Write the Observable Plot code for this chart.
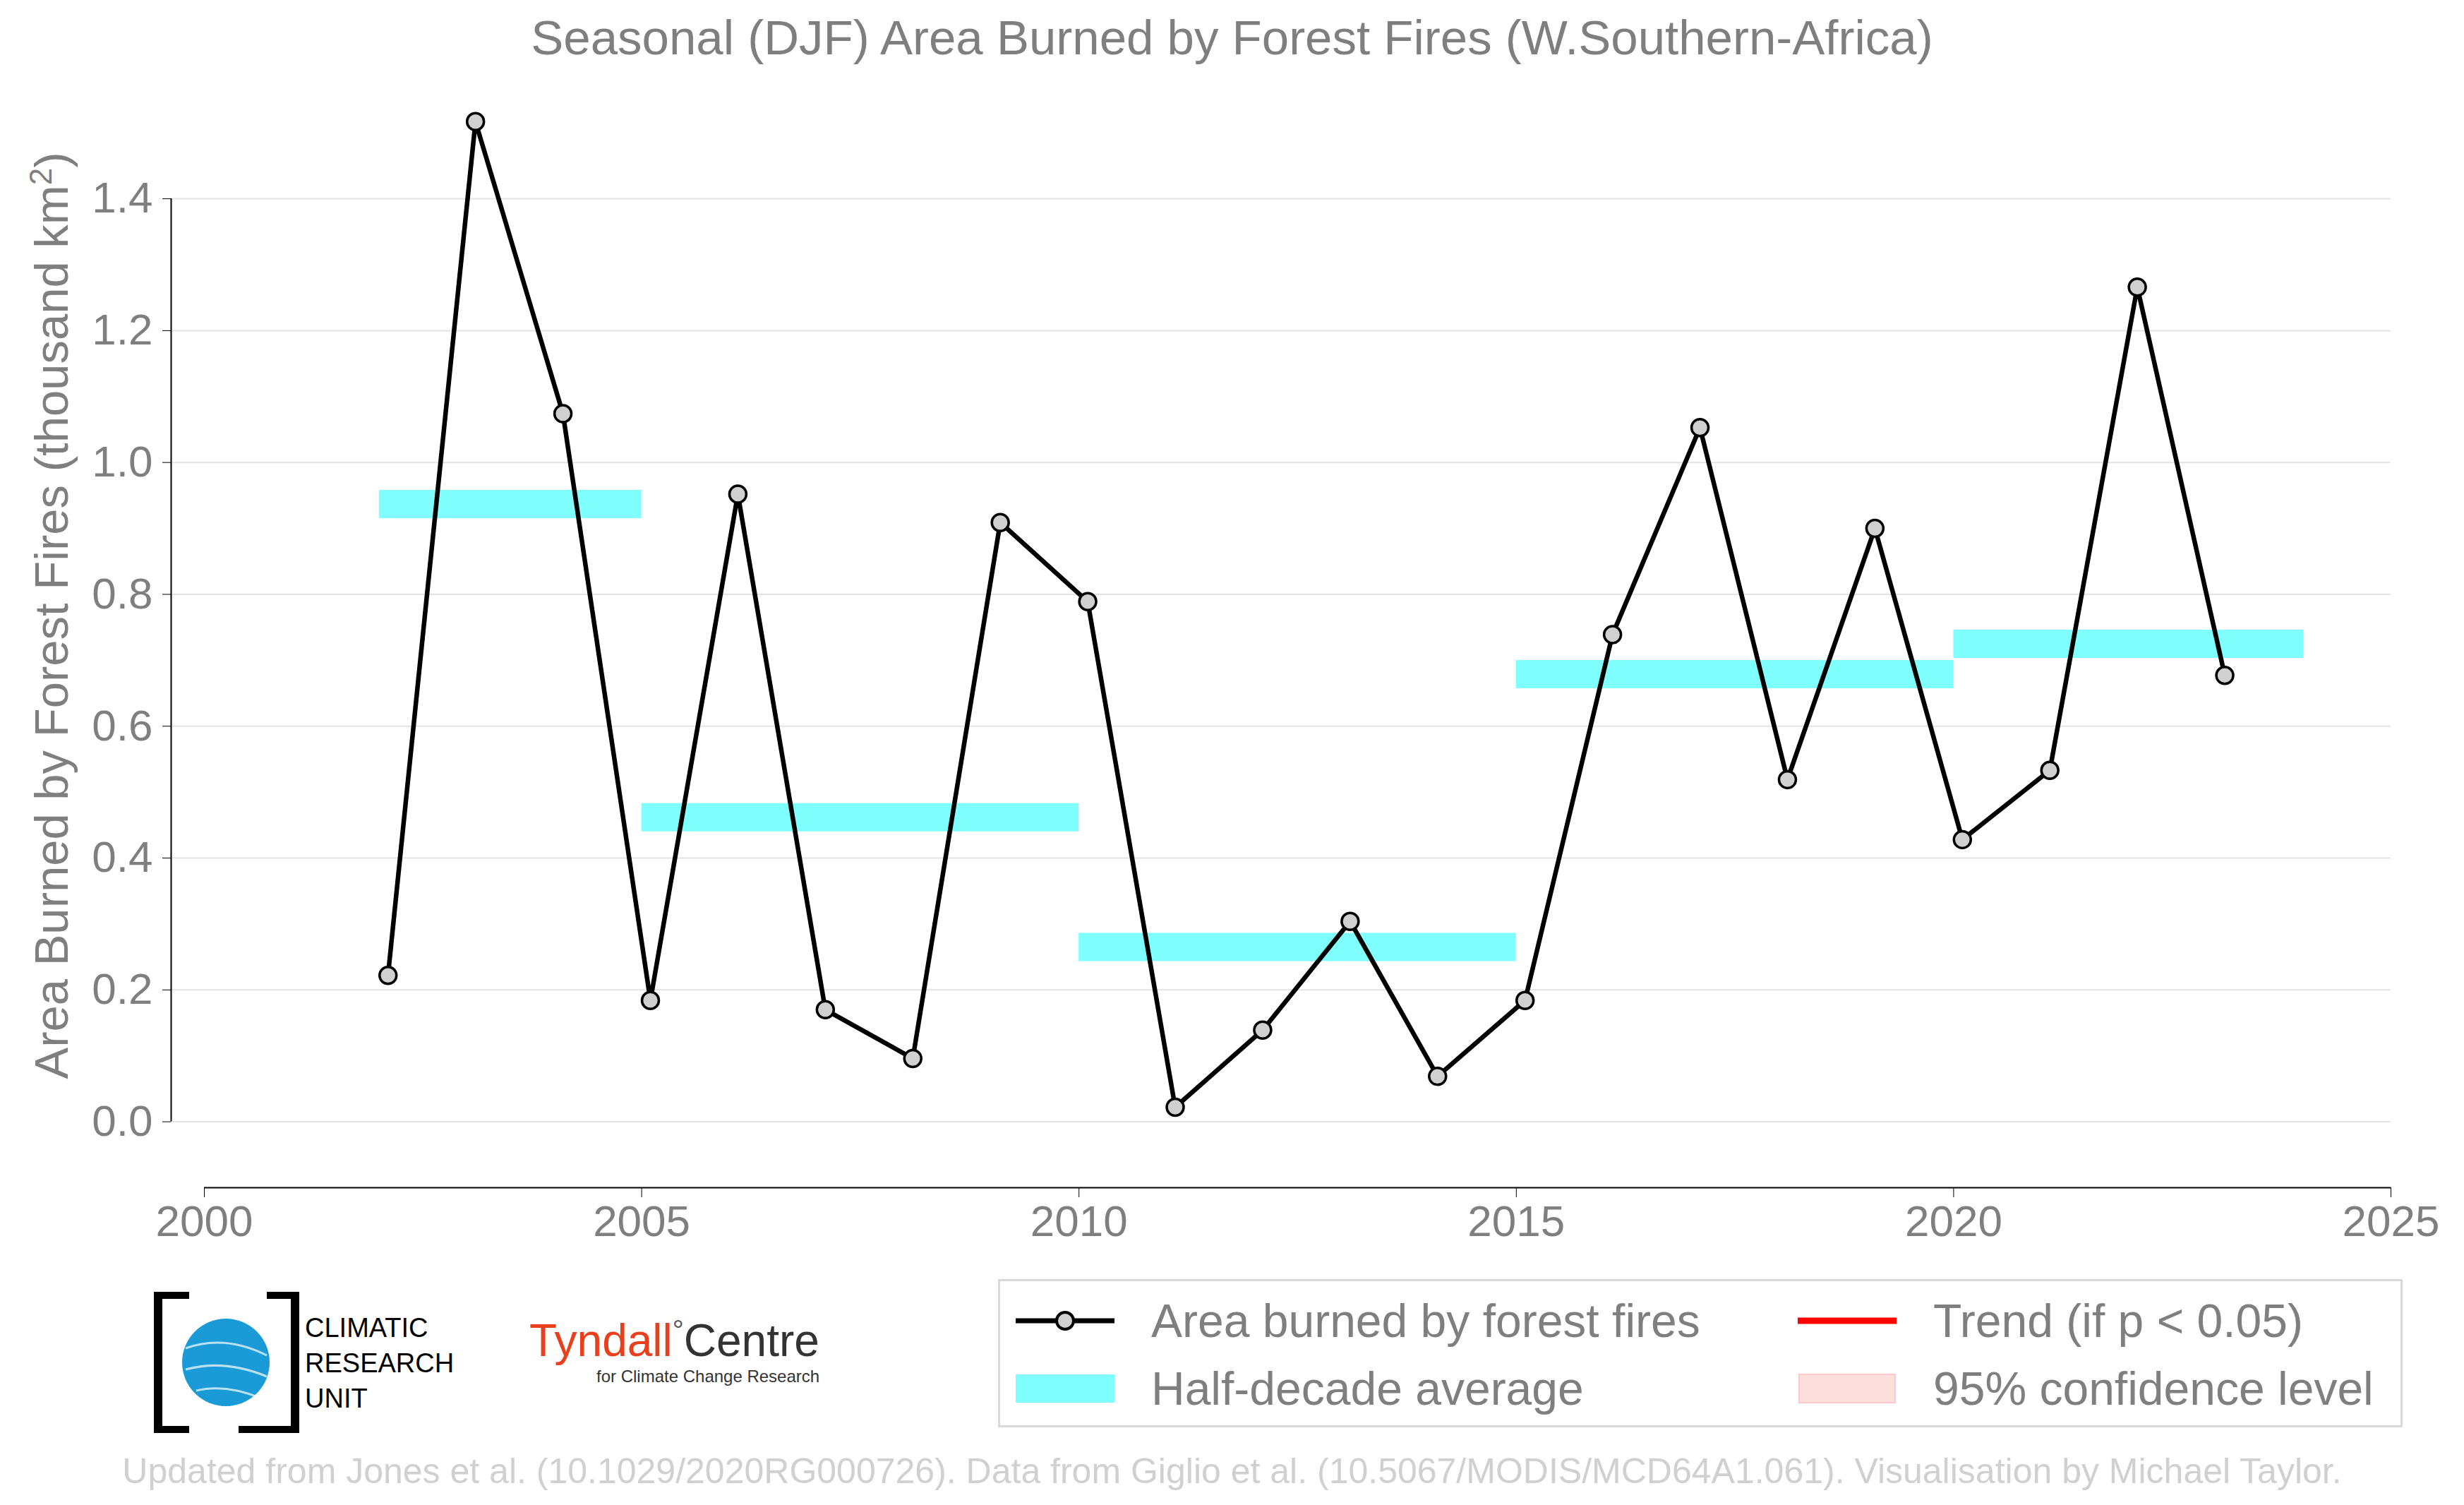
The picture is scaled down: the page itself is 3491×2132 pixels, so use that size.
<!DOCTYPE html>
<html lang="en">
<head>
<meta charset="UTF-8">
<script src="https://cdn.jsdelivr.net/npm/d3@7"></script>
<script src="https://cdn.jsdelivr.net/npm/@observablehq/plot@0.6"></script>
<style>
  body {margin:0; background:#fff; font-family:"Liberation Sans", Arial, sans-serif; width:3491px; height:2132px; position:relative; overflow:hidden;}
  #title {position:absolute; top:14px; left:0; width:3491px; text-align:center; font-size:69px; color:#7f7f7f;}
  #plot {position:absolute; top:0; left:0;}
  #ylab {position:absolute; left:72px; top:872px; transform:translate(-50%,-50%) rotate(-90deg); white-space:nowrap; font-size:67px; color:#7f7f7f;}
  #legend {position:absolute; left:1414px; top:1812px; width:1990px; height:210px; border:3px solid #d9d9d9; box-sizing:border-box; font-size:66px; color:#7f7f7f;}
  .li {position:absolute; display:flex; align-items:center;}
  #footer {position:absolute; top:2055px; left:0; width:3491px; text-align:center; font-size:50px; color:#d0d0d0;}
</style>
</head>
<body>
<div id="title">Seasonal (DJF) Area Burned by Forest Fires (W.Southern-Africa)</div>
<div id="plot"></div>
<div id="ylab">Area Burned by Forest Fires (thousand km<sup style="font-size:44px">2</sup>)</div>

<div style="position:absolute;left:218px;top:1830px;">
  <svg width="480" height="200">
    <path d="M50,4 H6 V196 H50" fill="none" stroke="#000" stroke-width="12"/>
    <path d="M160,4 H200 V196 H120" fill="none" stroke="#000" stroke-width="12"/>
    <circle cx="102" cy="100" r="62" fill="#1a9ad6"/>
    <path d="M45,80 Q100,60 160,90 M45,110 Q100,95 160,120 M60,140 Q100,130 150,150" stroke="#fff" stroke-width="3" fill="none" opacity="0.7"/>
    <text x="214" y="64" font-size="38" font-family="Liberation Sans">CLIMATIC</text>
    <text x="214" y="114" font-size="38" font-family="Liberation Sans">RESEARCH</text>
    <text x="214" y="164" font-size="38" font-family="Liberation Sans">UNIT</text>
  </svg>
</div>
<div style="position:absolute;left:750px;top:1862px;">
  <div style="font-size:64px;color:#e8401c;">Tyndall<span style="font-size:40px;vertical-align:top;color:#555">°</span><span style="color:#333">Centre</span></div>
  <div style="font-size:24px;color:#333;margin-left:95px;">for Climate Change Research</div>
</div>

<div id="legend">
  <div class="li" style="left:22px;top:18px;">
    <svg width="140" height="60"><line x1="0" y1="30" x2="140" y2="30" stroke="#000" stroke-width="7"/><circle cx="70" cy="30" r="12" fill="#d0d0d0" stroke="#000" stroke-width="4"/></svg>
    <span style="margin-left:52px">Area burned by forest fires</span></div>
  <div class="li" style="left:22px;top:114px;">
    <svg width="140" height="60"><rect x="0" y="10" width="140" height="40" fill="#80ffff"/></svg>
    <span style="margin-left:52px">Half-decade average</span></div>
  <div class="li" style="left:1130px;top:18px;">
    <svg width="140" height="60"><line x1="0" y1="30" x2="140" y2="30" stroke="#ff0000" stroke-width="9"/></svg>
    <span style="margin-left:52px">Trend (if p &lt; 0.05)</span></div>
  <div class="li" style="left:1130px;top:114px;">
    <svg width="140" height="60"><rect x="2" y="10" width="136" height="40" fill="#ffdede" stroke="#ffc8c8" stroke-width="2"/></svg>
    <span style="margin-left:52px">95% confidence level</span></div>
</div>
<div id="footer">Updated from Jones et al. (10.1029/2020RG000726). Data from Giglio et al. (10.5067/MODIS/MCD64A1.061). Visualisation by Michael Taylor.</div>

<script>
const years = [2002,2003,2004,2005,2006,2007,2008,2009,2010,2011,2012,2013,2014,2015,2016,2017,2018,2019,2020,2021,2022,2023];
const burned = [0.222,1.517,1.074,0.184,0.952,0.170,0.096,0.909,0.789,0.022,0.139,0.304,0.069,0.184,0.739,1.053,0.519,0.900,0.428,0.533,1.266,0.677];
const halfStart = [2002,2005,2010,2015,2020];
const halfEnd = [2005,2010,2015,2020,2024];
const halfAvg = [0.937,0.462,0.265,0.679,0.725];
const yTicks = [0,0.2,0.4,0.6,0.8,1.0,1.2,1.4];
const xTicks = [2000,2005,2010,2015,2020,2025];

const series = years.map((y,i) => ({x: y + 0.1, v: burned[i]}));
const halves = halfStart.map((s,i) => ({x1: s, x2: halfEnd[i], v: halfAvg[i]}));

const grey = "#7f7f7f";
const plot = Plot.plot({
  width: 3491, height: 1790,
  marginLeft: 289, marginRight: 104, marginTop: 141, marginBottom: 108,
  style: {fontFamily: "Liberation Sans, Arial, sans-serif", fontSize: "62px", color: grey, background: "transparent"},
  x: {domain: [2000, 2025]},
  y: {domain: [-0.1, 1.55]},
  marks: [
    Plot.gridY(yTicks, {stroke: "#e3e3e3", strokeOpacity: 1, strokeWidth: 2, insetLeft: -47}),
    Plot.ruleX([2000], {y1: 0, y2: 1.4, dx: -47, stroke: "#000", strokeWidth: 2}),
    Plot.axisY({ticks: yTicks, tickFormat: d3.format(".1f"), dx: -47, tickSize: 12, tickPadding: 14, label: null, stroke: "#000"}),
    Plot.ruleY([-0.1], {x1: 2000, x2: 2025, stroke: "#000", strokeWidth: 2}),
    Plot.axisX({ticks: xTicks, tickFormat: d => String(d), tickSize: 14, tickPadding: 10, label: null, stroke: "#000"}),
    Plot.ruleY(halves, {x1: "x1", x2: "x2", y: "v", stroke: "#80ffff", strokeWidth: 40}),
    Plot.line(series, {x: "x", y: "v", stroke: "#000", strokeWidth: 6.5}),
    Plot.dot(series, {x: "x", y: "v", r: 12, fill: "#d0d0d0", stroke: "#000", strokeWidth: 3.5})
  ]
});
document.getElementById("plot").append(plot);
</script>
</body>
</html>
